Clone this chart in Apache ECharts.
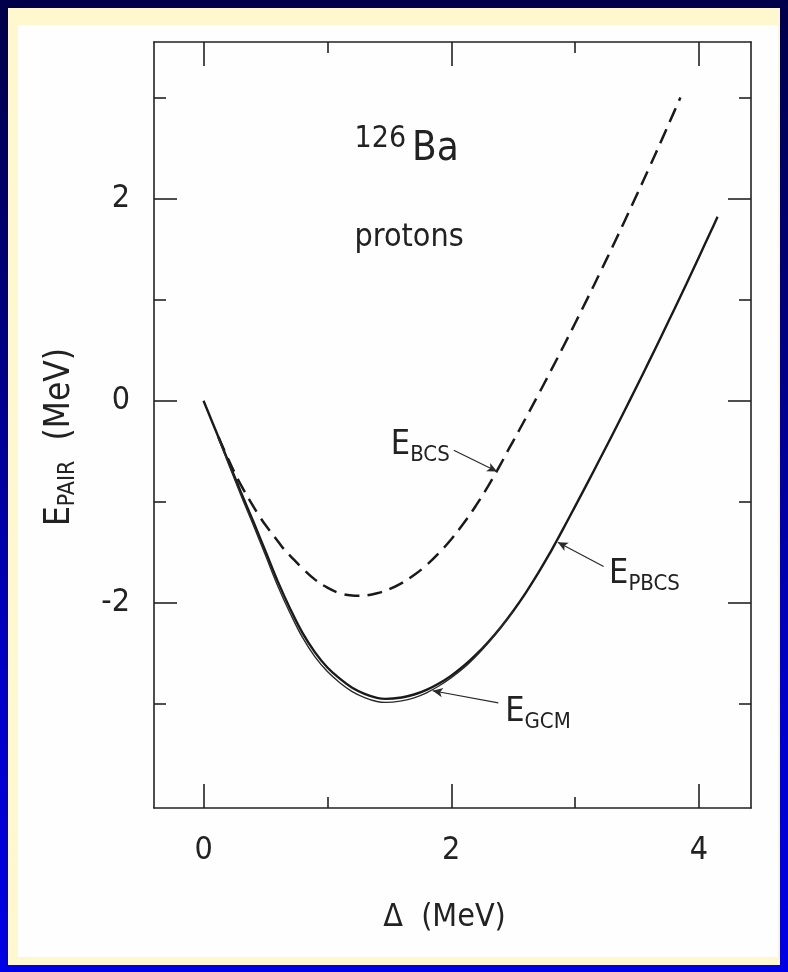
<!DOCTYPE html>
<html>
<head>
<meta charset="utf-8">
<script src="https://cdn.jsdelivr.net/npm/echarts@6/dist/echarts.min.js"></script>
<style>
  html, body { margin: 0; padding: 0; }
  body { width: 788px; height: 972px; position: relative; overflow: hidden;
         background: linear-gradient(180deg, #00004a 0%, #00007a 30%, #0000c8 70%, #0000e6 100%); }
  #frame { position: absolute; left: 8px; top: 8px; right: 8px; bottom: 7px; background: #fff8cf; }
  #paper { position: absolute; left: 18px; top: 25px; width: 760px; height: 932px; background: #fefefe; }
  #chart { position: absolute; left: 0; top: 0; width: 788px; height: 972px; }
</style>
</head>
<body>
<div id="frame"></div>
<div id="paper"></div>
<div id="chart"></div>
<script>
// ---- data (Δ in MeV, E in MeV) ----
var bcsDelta  = [0.12, 0.20, 0.25, 0.30, 0.38, 0.45, 0.50, 0.60, 0.65, 0.70, 0.80, 0.90, 1.00, 1.10, 1.20, 1.24, 1.30, 1.40, 1.50, 1.60, 1.70, 1.80, 1.90, 2.00, 2.10, 2.20, 2.30, 2.40, 2.45, 2.50, 2.60, 2.70, 2.80, 2.90, 3.00, 3.10, 3.20, 3.30, 3.40, 3.50, 3.60, 3.70, 3.80, 3.85];
var bcsE      = [-0.36, -0.58, -0.71, -0.83, -1.00, -1.14, -1.23, -1.39, -1.47, -1.535, -1.66, -1.77, -1.85, -1.905, -1.928, -1.93, -1.927, -1.905, -1.864, -1.804, -1.725, -1.626, -1.507, -1.37, -1.213, -1.036, -0.84, -0.625, -0.51, -0.399, -0.175, 0.054, 0.287, 0.525, 0.767, 1.013, 1.264, 1.519, 1.779, 2.043, 2.311, 2.584, 2.861, 3.00];

var pbcsDelta = [0.00, 0.10, 0.20, 0.30, 0.40, 0.50, 0.60, 0.70, 0.80, 0.90, 1.00, 1.10, 1.20, 1.30, 1.40, 1.47, 1.60, 1.70, 1.80, 1.90, 2.00, 2.10, 2.20, 2.30, 2.40, 2.50, 2.60, 2.70, 2.80, 2.85, 2.90, 3.00, 3.10, 3.20, 3.30, 3.40, 3.50, 3.60, 3.70, 3.80, 3.90, 4.00, 4.10, 4.15];
var pbcsE     = [0.00, -0.30, -0.60, -0.90, -1.19, -1.49, -1.79, -2.06, -2.30, -2.49, -2.64, -2.75, -2.84, -2.90, -2.94, -2.95, -2.936, -2.907, -2.861, -2.798, -2.72, -2.625, -2.513, -2.385, -2.241, -2.08, -1.903, -1.709, -1.50, -1.388, -1.275, -1.045, -0.813, -0.577, -0.339, -0.097, 0.149, 0.397, 0.649, 0.903, 1.161, 1.423, 1.687, 1.82];

var gcmDelta  = [0.12, 0.20, 0.30, 0.40, 0.50, 0.60, 0.70, 0.80, 0.90, 1.00, 1.10, 1.20, 1.30, 1.40, 1.47, 1.60, 1.70, 1.80, 1.90, 2.00, 2.10, 2.20, 2.30, 2.40, 2.50];
var gcmE      = [-0.37, -0.62, -0.93, -1.225, -1.53, -1.835, -2.105, -2.345, -2.535, -2.68, -2.79, -2.878, -2.937, -2.976, -2.985, -2.97, -2.94, -2.89, -2.823, -2.74, -2.645, -2.528, -2.395, -2.246, -2.08];

// axis ranges and ticks
var xRange = [-0.4, 4.42];
var yRange = [-4.03, 3.55];
var xMajorTicks = [0, 2, 4];
var xMinorTicks = [1, 3];
var yMajorTicks = [-2, 0, 2];
var yMinorTicks = [-3, -1, 1, 3];

// annotations (data coordinates)
var annotDelta = [1.64, 1.66, 1.75, 3.56, 2.70];
var annotE     = [2.49, 1.61, -0.44, -1.72, -3.08];
var annotText  = ['{sup|126}{big|Ba}', '{txt|protons}', '{e|E}{s|BCS}', '{e|E}{s|PBCS}', '{e|E}{s|GCM}'];
var leaderFrom = [[2.02, -0.49], [3.23, -1.64], [2.38, -2.99]];
var leaderTo   = [[2.37, -0.70], [2.86, -1.40], [1.85, -2.87]];

var FONT = '"Liberation Sans Narrow", "DejaVu Sans Condensed", "Liberation Sans", sans-serif';
var INK = '#222222';

function pairs(xs, ys) { return xs.map(function (x, i) { return [x, ys[i]]; }); }

function xAxisDef(pos, ticks, len, isMain) {
  return {
    type: 'value', gridIndex: 0, position: pos, min: xRange[0], max: xRange[1],
    axisLine: { show: isMain, onZero: false, lineStyle: { color: INK, width: 1.6 } },
    axisTick: { show: true, inside: true, length: len, customValues: ticks, lineStyle: { color: INK, width: 1.6 } },
    axisLabel: (isMain && pos === 'bottom') ? { show: true, customValues: ticks, margin: 27, color: INK, fontSize: 32, fontFamily: FONT }
                                             : { show: false },
    splitLine: { show: false },
    name: (isMain && pos === 'bottom') ? '\u0394  (MeV)' : '',
    nameLocation: 'middle', nameGap: 94,
    nameTextStyle: { color: INK, fontSize: 32, fontFamily: FONT, padding: [0, 16, 0, 0] }
  };
}
function yAxisDef(pos, ticks, len, isMain) {
  return {
    type: 'value', gridIndex: 0, position: pos, min: yRange[0], max: yRange[1],
    axisLine: { show: isMain, onZero: false, lineStyle: { color: INK, width: 1.6 } },
    axisTick: { show: true, inside: true, length: len, customValues: ticks, lineStyle: { color: INK, width: 1.6 } },
    axisLabel: (isMain && pos === 'left') ? { show: true, customValues: ticks, margin: 24, color: INK, fontSize: 32, fontFamily: FONT }
                                           : { show: false },
    splitLine: { show: false },
    name: (isMain && pos === 'left') ? '{e|E}{s|PAIR}{g| }{u|(MeV)}' : '',
    nameLocation: 'middle', nameRotate: 90, nameGap: 74,
    nameTextStyle: {
      color: INK, fontFamily: FONT,
      rich: {
        e: { fontSize: 35, color: INK, fontFamily: FONT },
        s: { fontSize: 23, color: INK, fontFamily: FONT, padding: [18, 0, 0, 0] },
        g: { fontSize: 35, color: INK, fontFamily: FONT, padding: [0, 10, 0, 0] },
        u: { fontSize: 35, color: INK, fontFamily: FONT, padding: [0, 24, 0, 0] }
      }
    }
  };
}

var chart = echarts.init(document.getElementById('chart'), null, { renderer: 'canvas' });

var annotData = annotDelta.map(function (d, i) {
  return { value: [d, annotE[i]], label: { formatter: annotText[i] } };
});

var leaderData = leaderFrom.map(function (p, i) {
  return [{ coord: p, symbol: 'none' }, { coord: leaderTo[i], symbol: 'arrow', symbolSize: [7, 10] }];
});

var option = {
  animation: false,
  backgroundColor: 'transparent',
  textStyle: { fontFamily: FONT },
  grid: { left: 154, right: 37, top: 42, bottom: 164, containLabel: false },
  xAxis: [
    xAxisDef('bottom', xMajorTicks, 24, true),
    xAxisDef('bottom', xMinorTicks, 11, false),
    xAxisDef('top', xMajorTicks, 24, true),
    xAxisDef('top', xMinorTicks, 11, false)
  ],
  yAxis: [
    yAxisDef('left', yMajorTicks, 23, true),
    yAxisDef('left', yMinorTicks, 12, false),
    yAxisDef('right', yMajorTicks, 23, true),
    yAxisDef('right', yMinorTicks, 12, false)
  ],
  series: [
    {
      name: 'E_BCS', type: 'line', xAxisIndex: 0, yAxisIndex: 0,
      data: pairs(bcsDelta, bcsE), smooth: 0.4, showSymbol: false, symbol: 'none',
      lineStyle: { color: '#1a1a1a', width: 2.5, type: [15, 8] },
      markLine: {
        silent: true, animation: false,
        lineStyle: { color: '#2a2a2a', width: 1.2, type: 'solid' },
        label: { show: false },
        data: leaderData
      }
    },
    {
      name: 'E_PBCS', type: 'line', xAxisIndex: 0, yAxisIndex: 0,
      data: pairs(pbcsDelta, pbcsE), smooth: 0.4, showSymbol: false, symbol: 'none',
      lineStyle: { color: '#1a1a1a', width: 2.4 }
    },
    {
      name: 'E_GCM', type: 'line', xAxisIndex: 0, yAxisIndex: 0,
      data: pairs(gcmDelta, gcmE), smooth: 0.4, showSymbol: false, symbol: 'none',
      lineStyle: { color: '#2a2a2a', width: 1.4 }
    },
    {
      name: 'labels', type: 'scatter', xAxisIndex: 0, yAxisIndex: 0,
      data: annotData, symbolSize: 0, silent: true, z: 10,
      itemStyle: { opacity: 1 },
      label: {
        show: true, position: 'inside', color: INK, fontFamily: FONT, opacity: 1,
        rich: {
          sup: { fontSize: 30, color: INK, fontFamily: FONT, padding: [0, 6, 20, 0] },
          big: { fontSize: 40, color: INK, fontFamily: FONT },
          txt: { fontSize: 32, color: INK, fontFamily: FONT },
          e: { fontSize: 34, color: INK, fontFamily: FONT },
          s: { fontSize: 22, color: INK, fontFamily: FONT, padding: [20, 0, 0, 0] }
        }
      }
    }
  ]
};
chart.setOption(option);
</script>
</body>
</html>
